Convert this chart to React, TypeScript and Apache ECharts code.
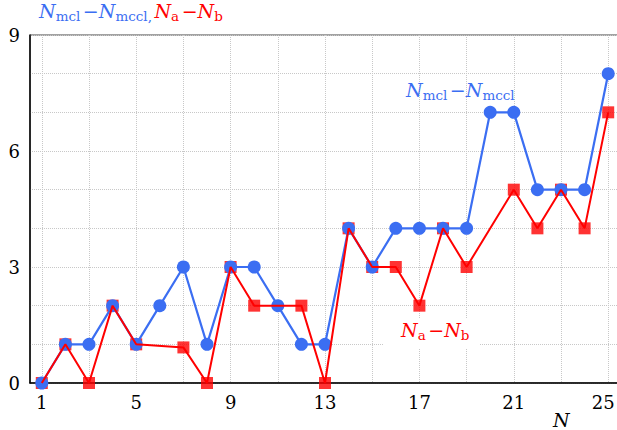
import React, { useEffect, useRef } from "react";
import * as echarts from "echarts";

const nValues = [1, 2, 3, 4, 5, 6, 7, 8, 9, 10, 11, 12, 13, 14, 15, 16, 17, 18, 19, 20, 21, 22, 23, 24, 25];
const blueValues = [0, 1, 1, 2, 1, 2, 3, 1, 3, 3, 2, 1, 1, 4, 3, 4, 4, 4, 4, 7, 7, 5, 5, 5, 8];
const redN = [1, 2, 3, 4, 5, 7, 8, 9, 10, 12, 13, 14, 15, 16, 17, 18, 19, 21, 22, 23, 24, 25];
const redValues = [0, 1, 0, 2, 1, 0.92, 0, 3, 2, 2, 0, 4, 3, 3, 2, 4, 3, 5, 4, 5, 4, 7];
const xTickLabels = [1, 5, 9, 13, 17, 21, 25];
const xGridValues = [1, 3, 5, 7, 9, 11, 13, 15, 17, 19, 21, 23, 25];
const yTickLabels = [0, 3, 6, 9];

const BLUE = "#3b6ef2";
const RED = "#ff0000";
const FONT = "DejaVu Serif";

function richStyles() {
  const mk = (fill: string) => ({
    n: { fontFamily: FONT, fontStyle: "italic", fontSize: 19, fill, lineHeight: 24, verticalAlign: "middle" },
    m: { fontFamily: FONT, fontSize: 19, fill, lineHeight: 24, verticalAlign: "middle" },
    s: { fontFamily: FONT, fontSize: 13.5, fill, lineHeight: 14, verticalAlign: "bottom" },
    p: { fontFamily: FONT, fontSize: 8, fill, lineHeight: 14, verticalAlign: "bottom" },
  });
  const b = mk(BLUE);
  const r = mk(RED);
  return {
    bn: b.n, bm: b.m, bs: b.s, bp: b.p,
    rn: r.n, rm: r.m, rs: r.s, rp: r.p,
  };
}

export default function App() {
  const ref = useRef<HTMLDivElement>(null);
  useEffect(() => {
    if (!ref.current) return;
    const chart = echarts.init(ref.current, null, { renderer: "svg" });
    const rich = richStyles();
    const blueData = nValues.map((n, i) => [n, blueValues[i]]);
    const redData = redN.map((n, i) => [n, redValues[i]]);
    const lastX = xTickLabels[xTickLabels.length - 1];
    chart.setOption({
      animation: false,
      textStyle: { fontFamily: FONT },
      grid: {
        left: 30,
        top: 35,
        right: 20,
        bottom: 47,
        show: true,
        borderColor: "#444",
        borderWidth: 1,
      },
      xAxis: {
        type: "value",
        min: 0.5,
        max: 25.5,
        axisLine: { show: true, onZero: false, lineStyle: { color: "#000", width: 1.5 } },
        axisTick: { show: false, customValues: xGridValues },
        axisLabel: {
          customValues: xTickLabels,
          fontFamily: FONT,
          fontSize: 18,
          color: "#000",
          margin: 10,
          formatter: (v: number) => (v === lastX ? "{e|" + v + "}" : String(v)),
          rich: {
            e: { fontFamily: FONT, fontSize: 18, color: "#000", padding: [0, 10, 0, 0] },
          },
        },
        splitLine: { show: true, lineStyle: { color: "#c8c8c8", type: "dotted", width: 1 } },
      },
      yAxis: {
        type: "value",
        min: 0,
        max: 9,
        interval: 1,
        axisLine: { show: true, onZero: false, lineStyle: { color: "#000", width: 1.5 } },
        axisTick: { show: false },
        axisLabel: {
          customValues: yTickLabels,
          fontFamily: FONT,
          fontSize: 18,
          color: "#000",
          margin: 10,
        },
        splitLine: { show: true, lineStyle: { color: "#c8c8c8", type: "dotted", width: 1 } },
      },
      series: [
        {
          type: "scatter",
          data: redData,
          symbol: "rect",
          symbolSize: 12,
          itemStyle: { color: RED },
          z: 1,
        },
        {
          type: "line",
          data: blueData,
          symbol: "circle",
          symbolSize: 13,
          showAllSymbol: true,
          lineStyle: { color: BLUE, width: 2.2 },
          itemStyle: { color: BLUE },
          z: 2,
        },
        {
          type: "line",
          data: redData,
          showSymbol: false,
          symbol: "none",
          lineStyle: { color: RED, width: 2 },
          z: 3,
        },
      ],
      graphic: [
        {
          type: "text",
          left: 39,
          top: 1,
          style: {
            text: "{bn|N}{bs|mcl}{bp| }{bm|−}{bn|N}{bs|mccl,}{bp| }{rn|N}{rs|a}{rp| }{rm|−}{rn|N}{rs|b}",
            fontFamily: FONT,
            fontSize: 19,
            rich,
          },
        },
        {
          type: "text",
          left: 406,
          top: 80,
          z: 10,
          style: {
            text: "{bn|N}{bs|mcl}{bp| }{bm|−}{bn|N}{bs|mccl}",
            fontFamily: FONT,
            fontSize: 19,
            rich,
          },
        },
        {
          type: "rect",
          shape: { x: 384, y: 318, width: 96, height: 30 },
          style: { fill: "#fff" },
          z: 9,
        },
        {
          type: "text",
          left: 401,
          top: 320,
          z: 10,
          style: {
            text: "{rn|N}{rs|a}{rp| }{rm|−}{rn|N}{rs|b}",
            fontFamily: FONT,
            fontSize: 19,
            rich,
          },
        },
        {
          type: "text",
          left: 553,
          top: 410,
          style: {
            text: "N",
            fontFamily: FONT,
            fontStyle: "italic",
            fontSize: 19,
            fill: "#000",
          },
        },
      ],
    });
    return () => chart.dispose();
  }, []);
  return (
    <div style={{ width: 617, height: 430, position: "absolute", left: 0, top: 0, overflow: "hidden" }}>
      <div ref={ref} style={{ width: 640, height: 430 }} />
    </div>
  );
}
